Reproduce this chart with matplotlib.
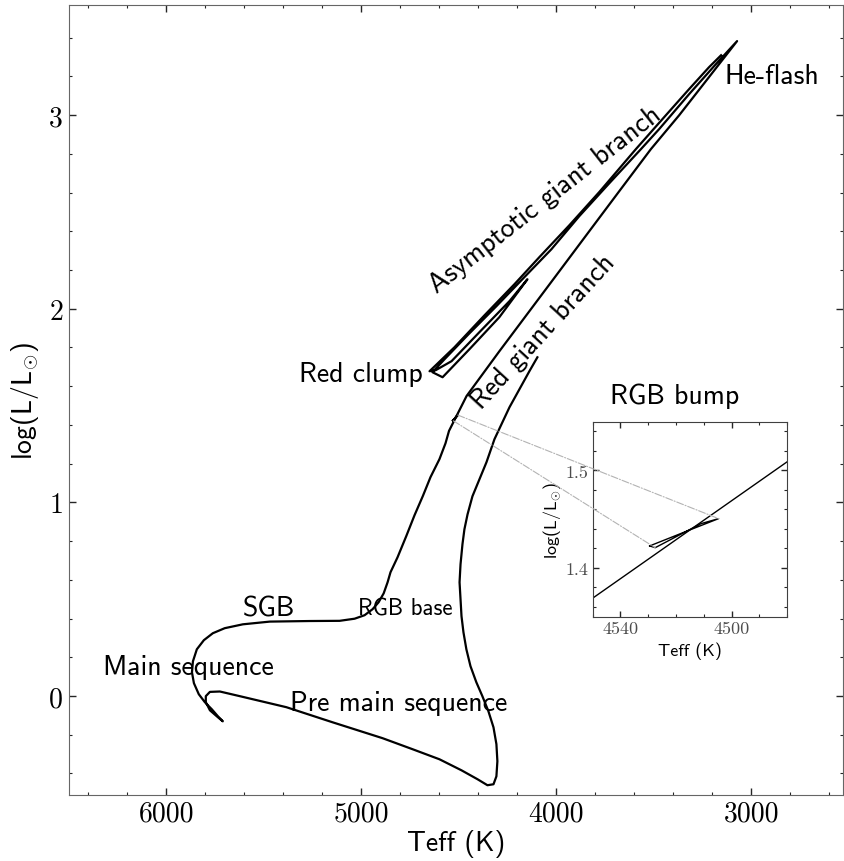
import numpy as np
import matplotlib
matplotlib.use('Agg')
from matplotlib import pyplot as plt
from matplotlib.patches import ConnectionPatch
from matplotlib.ticker import MultipleLocator

plt.rcParams['font.family'] = ['cmss10', 'DejaVu Sans']
plt.rcParams['mathtext.fontset'] = 'cm'
plt.rcParams['axes.unicode_minus'] = False

# pre main sequence: down the Hayashi track, then across to the ZAMS
pms_teff = [4097, 4138, 4189, 4240, 4276, 4317, 4358, 4394, 4430, 4455, 4471, 4481, 4491, 4496, 4491,
            4486, 4476, 4461, 4440, 4410, 4379, 4348, 4322, 4307, 4302, 4307, 4322, 4353, 4404, 4486,
            4599, 4737, 4891, 5147, 5384, 5623, 5725, 5776, 5797, 5797, 5776, 5735, 5710]
pms_logl = [1.749, 1.677, 1.584, 1.491, 1.414, 1.326, 1.207, 1.119, 1.031, 0.938, 0.861, 0.784, 0.680,
            0.587, 0.500, 0.412, 0.329, 0.241, 0.154, 0.071, -0.001, -0.079, -0.162, -0.249, -0.337,
            -0.415, -0.456, -0.461, -0.430, -0.384, -0.327, -0.275, -0.218, -0.136, -0.058, -0.001,
            0.023, 0.021, -0.001, -0.032, -0.074, -0.110, -0.131]

# main sequence, subgiant branch and red giant branch up to the tip
ms_teff = [5735, 5766, 5802, 5833, 5858, 5868, 5863, 5843, 5807, 5761, 5700, 5607, 5469, 5264, 5111,
           5034, 4983, 4942, 4911, 4885, 4865, 4850, 4814, 4769, 4727, 4684, 4645, 4599, 4568, 4550,
           4530, 4500, 4480, 4460, 4292, 4138, 3984, 3831, 3677, 3515, 3370, 3217, 3073]
ms_logl = [-0.105, -0.069, -0.032, 0.009, 0.066, 0.122, 0.179, 0.241, 0.288, 0.324, 0.350, 0.370,
           0.384, 0.387, 0.388, 0.399, 0.417, 0.448, 0.484, 0.530, 0.587, 0.639, 0.716, 0.826, 0.933,
           1.033, 1.130, 1.223, 1.305, 1.369, 1.409, 1.469, 1.509, 1.549, 1.780, 1.987, 2.194, 2.400,
           2.607, 2.824, 2.999, 3.196, 3.382]

# after the He-flash: down to the clump, core He burning, then the AGB
he_teff = [3186, 3319, 3473, 3566, 3728, 3882, 4025, 4174, 4307, 4450, 4573, 4635, 4583, 4445, 4292,
           4148, 4240, 4394, 4537, 4619, 4650, 4522, 4368, 4215, 4087, 3933, 3780, 3592, 3447, 3319,
           3217, 3155]
he_logl = [3.258, 3.108, 2.927, 2.824, 2.648, 2.478, 2.307, 2.152, 2.013, 1.868, 1.739, 1.672, 1.646,
           1.791, 1.956, 2.152, 2.039, 1.879, 1.729, 1.682, 1.677, 1.801, 1.966, 2.126, 2.266, 2.431,
           2.602, 2.824, 2.989, 3.134, 3.247, 3.309]

# RGB bump loop
bump_teff = [4529.5, 4517, 4504.7, 4511, 4527.5, 4529.5]
bump_logl = [1.4226, 1.4368, 1.4506, 1.4455, 1.4208, 1.4226]

inset_xticks = [4540, 4500]

track_teff = np.concatenate([pms_teff, ms_teff, he_teff])
track_logl = np.concatenate([pms_logl, ms_logl, he_logl])

fig = plt.figure(figsize=(8.44, 8.62), dpi=100)
ax = fig.add_axes([0.0814, 0.0769, 0.9174, 0.9165])
ax.plot(track_teff, track_logl, color='k', lw=1.6)
ax.plot(bump_teff, bump_logl, color='k', lw=1.6)

ax.set_xlim(6500, 2530)
ax.set_ylim(-0.51, 3.57)
ax.xaxis.set_major_locator(MultipleLocator(1000))
ax.xaxis.set_minor_locator(MultipleLocator(200))
ax.yaxis.set_major_locator(MultipleLocator(1))
ax.yaxis.set_minor_locator(MultipleLocator(0.2))
ax.tick_params(which='both', direction='in', top=True, right=True, colors='0.15',
               labelcolor='k', labelfontfamily='cmr10', labelsize=20, pad=4)
ax.tick_params(which='major', length=5, width=1.0)
ax.tick_params(which='minor', length=2.5, width=0.8)
for s in ax.spines.values():
    s.set_color('0.4')
ax.set_xlabel('Teff (K)', fontsize=20, labelpad=2)
ax.set_ylabel(r'log(L/L$_{\odot}$)', fontsize=20, labelpad=6)

ax.text(3140, 3.167, 'He-flash', fontsize=20, ha='left', va='baseline')
ax.text(4684, 1.627, 'Red clump', fontsize=20, ha='right', va='baseline')
ax.text(5606, 0.413, 'SGB', fontsize=20, ha='left', va='baseline')
ax.text(5017, 0.422, 'RGB base', fontsize=16.5, ha='left', va='baseline')
ax.text(6322, 0.112, 'Main sequence', fontsize=20, ha='left', va='baseline')
ax.text(5367, -0.072, 'Pre main sequence', fontsize=20, ha='left', va='baseline')
ax.text(3392, 1.515, 'RGB bump', fontsize=20, ha='center', va='baseline')
ax.text(4614, 2.080, 'Asymptotic giant branch', fontsize=20, ha='left', va='baseline',
        rotation=38, rotation_mode='anchor')
ax.text(4385, 1.481, 'Red giant branch', fontsize=20, ha='left', va='baseline',
        rotation=47.5, rotation_mode='anchor')

# zoom on the RGB bump
axins = fig.add_axes([0.7022, 0.2834, 0.2306, 0.2262])
axins.plot(ms_teff, ms_logl, color='k', lw=1.0)
axins.plot(bump_teff, bump_logl, color='k', lw=1.0)
axins.set_xlim(4550, 4480)
axins.set_ylim(1.35, 1.55)
axins.set_xticks(inset_xticks)
axins.xaxis.set_minor_locator(MultipleLocator(10))
axins.yaxis.set_major_locator(MultipleLocator(0.1))
axins.yaxis.set_minor_locator(MultipleLocator(0.02))
axins.tick_params(which='both', direction='in', top=True, right=True, colors='0.15',
                  labelcolor='0.3', labelfontfamily='cmr10', labelsize=13, pad=3)
axins.tick_params(which='major', length=4, width=1.0)
axins.tick_params(which='minor', length=2, width=0.8)
for s in axins.spines.values():
    s.set_color('0.25')
axins.set_xlabel('Teff (K)', fontsize=13, labelpad=4)
axins.set_ylabel(r'log(L/L$_{\odot}$)', fontsize=13, labelpad=2)

for i in [2, 4]:
    con = ConnectionPatch(xyA=(bump_teff[i], bump_logl[i]), coordsA=ax.transData,
                          xyB=(bump_teff[i], bump_logl[i]), coordsB=axins.transData,
                          color='0.7', ls='-.', lw=0.8)
    fig.add_artist(con)

fig.savefig('out.png', dpi=100)
